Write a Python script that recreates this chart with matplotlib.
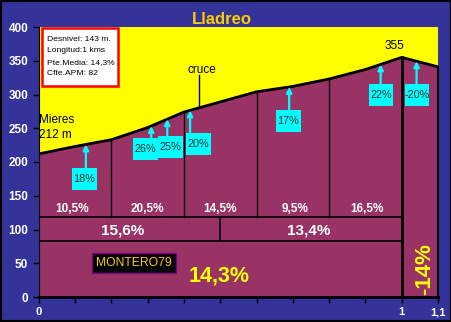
import numpy as np
import matplotlib
matplotlib.use("Agg")
import matplotlib.pyplot as plt
from matplotlib.patches import Rectangle

plt.rcParams['font.family'] = ['Liberation Sans', 'DejaVu Sans']

# ---- data ----
dist = [0, 0.1, 0.2, 0.3, 0.4, 0.5, 0.6, 0.7, 0.8, 0.9, 1.0, 1.1]
elev = [212, 223, 233, 251, 274, 289, 304, 312, 323, 337, 355, 341]
section_edges = [0, 0.2, 0.4, 0.6, 0.8, 1.0]
section_grades = ["10,5%", "20,5%", "14,5%", "9,5%", "16,5%"]
half_edges = [0, 0.5, 1.0]
half_grades = ["15,6%", "13,4%"]
total_grade = "14,3%"
descent_grade = "-14%"
peak_x = [0.13, 0.31, 0.354, 0.417, 0.69, 0.942, 1.041]
peak_labels = ["18%", "26%", "25%", "20%", "17%", "22%", "-20%"]
peak_box_x = [0.126, 0.294, 0.364, 0.44, 0.688, 0.943, 1.042]
peak_box_y = [175, 219, 222, 227, 261, 299, 299]
info_lines = ["Desnivel: 143 m.", "Longitud:1 kms", "Pte.Media: 14,3%", "Cfte.APM: 82"]
yticks = [0, 50, 100, 150, 200, 250, 300, 350, 400]

BG = "#333399"
MAROON = "#993366"
YELLOW = "#FFFF00"
CYAN = "#00FFFF"

fig = plt.figure(figsize=(4.52, 3.22), dpi=100, facecolor=BG)
ax = fig.add_axes([38.7/452, 25/322, (438-38.7)/452, (297-27)/322])
ax.set_facecolor(YELLOW)
ax.set_xlim(0, 1.1)
ax.set_ylim(0, 400)

# profile fill
ax.fill_between(dist, 0, elev, color=MAROON, zorder=1)
ax.plot(dist, elev, color="black", lw=2, zorder=4)

def prof(x):
    return np.interp(x, dist, elev)

for e in section_edges[1:-1]:
    ax.plot([e, e], [118, prof(e)], color="black", lw=1, zorder=3)
ax.plot([1.0, 1.0], [0, prof(1.0)], color="black", lw=2, zorder=3)
ax.plot([1.1, 1.1], [0, prof(1.1)], color="black", lw=1.5, zorder=3, clip_on=False)
ax.plot([0, 1.0], [118, 118], color="black", lw=1.2, zorder=3)
ax.plot([0, 1.0], [83, 83], color="black", lw=1.2, zorder=3)
ax.plot([half_edges[1]]*2, [83, 118], color="black", lw=1.2, zorder=3)

sec_x = [0.092, 0.30, 0.5, 0.706, 0.903]
for xc, g in zip(sec_x, section_grades):
    ax.text(xc, 131, g, color="white", fontsize=8.5, fontweight="bold",
            ha="center", va="center", zorder=5)
half_x = [0.23, 0.745]
for xc, g in zip(half_x, half_grades):
    ax.text(xc, 98, g, color="white", fontsize=11, fontweight="bold",
            ha="center", va="center", zorder=5)
ax.text(0.497, 31, total_grade, color=YELLOW, fontsize=15.5, fontweight="bold",
        ha="center", va="center", zorder=5)
ax.text(1.063, 42, descent_grade, color=YELLOW, fontsize=16, fontweight="bold",
        ha="center", va="center", rotation=90, zorder=5)

# peak arrows
bw, bh = 0.068, 32
for px, lab, bx, by in zip(peak_x, peak_labels, peak_box_x, peak_box_y):
    tip = prof(px)
    ax.annotate("", xy=(px, tip), xytext=(px, by + bh/2),
                arrowprops=dict(arrowstyle="-|>", color=CYAN, lw=1.6,
                                mutation_scale=8, shrinkA=0, shrinkB=0), zorder=6)
    ax.add_patch(Rectangle((bx - bw/2, by - bh/2), bw, bh, fc=CYAN, ec="none", zorder=7))
    ax.text(bx, by, lab, fontsize=7.8, color="#1a3333", ha="center", va="center", zorder=8)

# annotations
ax.text(0.0, 262, "Mieres", fontsize=8.5, ha="left", va="center", zorder=5)
ax.text(0.0, 240, "212 m", fontsize=8.5, ha="left", va="center", zorder=5)
ax.text(0.45, 337, "cruce", fontsize=8.5, ha="center", va="center", zorder=5)
ax.plot([0.442, 0.442], [329, prof(0.442)], color="black", lw=1, zorder=5)
ax.text(0.98, 372, "355", fontsize=8.5, ha="center", va="center", zorder=5)

ax.text(0.263, 50, "MONTERO79", fontsize=8.7, color="#FFCC00", ha="center", va="center",
        bbox=dict(boxstyle="square,pad=0.35", fc="black", ec="#800080", lw=1), zorder=6)

# info box
ax.add_patch(Rectangle((0.009, 313), 0.209, 85.5, fc="white", ec="red", lw=1.8, zorder=8))
for yl, line in zip([382, 364.5, 348, 330.5], info_lines):
    ax.text(0.024, yl, line, fontsize=6.1, ha="left", va="center", zorder=9)

fig.text(222/452, 1 - 19.5/322, "Lladreo", color="#FFCC00", fontsize=12,
         fontweight="bold", ha="center", va="center")

# axes styling
for s in ["top", "right"]:
    ax.spines[s].set_visible(False)
ax.spines["left"].set_color("black")
ax.spines["bottom"].set_color("black")
ax.spines["bottom"].set_linewidth(2)
ax.set_yticks(yticks)
ax.set_yticklabels([str(v) for v in yticks], color="white", fontsize=8.5, fontweight="bold")
xt = [round(0.1*i, 1) for i in range(12)]
ax.set_xticks(xt)
ax.set_xticklabels(["0"] + [""]*9 + ["1", "1,1"], color="white", fontsize=8, fontweight="bold")
ax.tick_params(axis="both", color="black", length=4, width=1, direction="out")

fig.patches.append(Rectangle((0, 0), 1, 1, transform=fig.transFigure, fill=False,
                             ec="black", lw=3))
fig.savefig("out.png", dpi=100, facecolor=BG)
